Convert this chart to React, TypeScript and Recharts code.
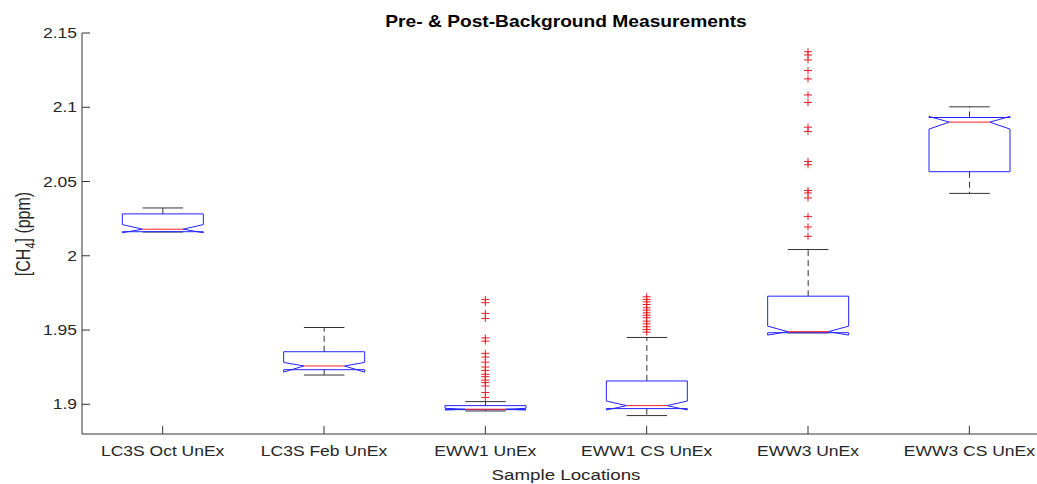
import { ComposedChart, Bar, Scatter, XAxis, YAxis } from 'recharts';

// sample locations
const categories = ['LC3S Oct UnEx', 'LC3S Feb UnEx', 'EWW1 UnEx', 'EWW1 CS UnEx', 'EWW3 UnEx', 'EWW3 CS UnEx'];

// box statistics (ppm), one value per location
const whiskerLow = [2.016, 1.9197, 1.8955, 1.8924, 1.9481, 2.042];
const q1 = [2.0162, 1.9233, 1.8964, 1.8971, 1.9482, 2.0566];
const median = [2.0179, 1.9258, 1.8967, 1.8991, 1.9489, 2.09];
const q3 = [2.0282, 1.9354, 1.8991, 1.9157, 1.9728, 2.0931];
const whiskerHigh = [2.0322, 1.9517, 1.9018, 1.945, 2.0042, 2.1003];
const notchLow = [2.0155, 1.9217, 1.8962, 1.8962, 1.9466, 2.0853];
const notchHigh = [2.021, 1.9282, 1.8973, 1.9022, 1.9526, 2.0938];

// outliers
const eww1Outliers = [1.9706, 1.9684, 1.9612, 1.9578, 1.9447, 1.9425, 1.9343, 1.9318, 1.9284, 1.9251, 1.9228, 1.9202, 1.9186, 1.9163, 1.9146, 1.9123, 1.9079, 1.9046];
const eww1CsOutliers = [1.9724, 1.9706, 1.969, 1.9672, 1.965, 1.9634, 1.9616, 1.96, 1.9583, 1.956, 1.9542, 1.9522, 1.9504, 1.9486];
const eww3Outliers = [2.1374, 2.1352, 2.1319, 2.1247, 2.1191, 2.1083, 2.1032, 2.0866, 2.0837, 2.0635, 2.0613, 2.044, 2.0423, 2.0389, 2.0265, 2.0194, 2.0131];

const yTicks = [1.9, 1.95, 2, 2.05, 2.1, 2.15];

const data = categories.map((name, i) => ({
  name,
  range: [whiskerLow[i], whiskerHigh[i]],
  q1: q1[i],
  median: median[i],
  q3: q3[i],
  notchLow: notchLow[i],
  notchHigh: notchHigh[i],
}));

const outlierData = [
  ...eww1Outliers.map((v) => ({ name: categories[2], v })),
  ...eww1CsOutliers.map((v) => ({ name: categories[3], v })),
  ...eww3Outliers.map((v) => ({ name: categories[4], v })),
];

const AXIS = '#333';
const TEXT = '#262626';
const FONT = '"Liberation Sans", Arial, sans-serif';
const SX = 1.25; // the picture is stretched sideways

function NotchedBox(props: any) {
  const { x, y, width, height, payload } = props;
  const [lo, hi] = payload.range;
  const py = (v: number) => y + (height * (hi - v)) / (hi - lo);
  const cx = x + width / 2;
  const l = x;
  const r = x + width;
  const il = x + width / 4;
  const ir = x + (width * 3) / 4;
  const d =
    `M${l},${py(payload.q1)} L${l},${py(payload.notchLow)} L${il},${py(payload.median)} ` +
    `L${l},${py(payload.notchHigh)} L${l},${py(payload.q3)} L${r},${py(payload.q3)} ` +
    `L${r},${py(payload.notchHigh)} L${ir},${py(payload.median)} L${r},${py(payload.notchLow)} ` +
    `L${r},${py(payload.q1)} Z`;
  return (
    <g>
      <line x1={cx} x2={cx} y1={py(payload.q3)} y2={py(hi)} stroke={AXIS} strokeDasharray="6 4" />
      <line x1={cx} x2={cx} y1={py(payload.q1)} y2={py(lo)} stroke={AXIS} strokeDasharray="6 4" />
      <line x1={il} x2={ir} y1={py(hi)} y2={py(hi)} stroke={AXIS} />
      <line x1={il} x2={ir} y1={py(lo)} y2={py(lo)} stroke={AXIS} />
      <path d={d} fill="none" stroke="#2323ff" strokeWidth={1} />
      <line x1={il} x2={ir} y1={py(payload.median)} y2={py(payload.median)} stroke="#ff2020" />
    </g>
  );
}

function Plus(props: any) {
  const { cx, cy } = props;
  return <path d={`M${cx - 4},${cy} h8 M${cx},${cy - 3.5} v7`} stroke="#ee1c24" strokeWidth={1} fill="none" />;
}

function XTick(props: any) {
  const { x, y, payload } = props;
  return (
    <g transform={`translate(${x},${y + 22}) scale(${SX},1)`}>
      <text x={0} y={0} textAnchor="middle" fontSize={14} fontFamily={FONT} fill={TEXT}>
        {payload.value}
      </text>
    </g>
  );
}

function YTick(props: any) {
  const { x, y, payload } = props;
  return (
    <g transform={`translate(${x},${y + 5}) scale(${SX},1)`}>
      <text x={0} y={0} textAnchor="end" fontSize={14} fontFamily={FONT} fill={TEXT}>
        {String(payload.value)}
      </text>
    </g>
  );
}

export default function App() {
  return (
    <div style={{ position: 'absolute', left: 0, top: 0, width: 1037, height: 484, overflow: 'hidden', background: '#fff' }}>
      <ComposedChart
        width={1060}
        height={484}
        data={data}
        barCategoryGap="25%"
        margin={{ top: 33, right: 10, bottom: 0, left: 0 }}
      >
        <XAxis
          xAxisId="b"
          dataKey="name"
          type="category"
          allowDuplicatedCategory={false}
          height={50}
          stroke={AXIS}
          tickSize={-8}
          tickMargin={8}
          tick={<XTick />}
        />
        <XAxis
          xAxisId="t"
          orientation="top"
          type="number"
          domain={[0, 6]}
          ticks={[0.5, 1.5, 2.5, 3.5, 4.5, 5.5]}
          height={0}
          stroke={AXIS}
          tickSize={-8}
          tick={false}
        />
        <YAxis
          yAxisId="l"
          type="number"
          domain={[1.88, 2.15]}
          ticks={yTicks}
          allowDataOverflow
          width={82}
          stroke={AXIS}
          tickSize={-8}
          tickMargin={13}
          tick={<YTick />}
        />
        <YAxis
          yAxisId="r"
          orientation="right"
          type="number"
          domain={[1.88, 2.15]}
          ticks={yTicks}
          allowDataOverflow
          width={0}
          stroke={AXIS}
          tickSize={-8}
          tick={false}
        />
        <Bar xAxisId="b" yAxisId="l" dataKey="range" shape={NotchedBox} isAnimationActive={false} />
        <Scatter xAxisId="b" yAxisId="l" data={outlierData} dataKey="v" shape={Plus} isAnimationActive={false} />
      </ComposedChart>
      <svg width={1037} height={484} style={{ position: 'absolute', left: 0, top: 0, pointerEvents: 'none' }}>
        <g transform={`translate(566,26.5) scale(1.2,1)`}>
          <text textAnchor="middle" fontSize={16} fontWeight="bold" fontFamily={FONT} fill="#000">
            Pre- &amp; Post-Background Measurements
          </text>
        </g>
        <g transform={`translate(566,480) scale(${SX},1)`}>
          <text textAnchor="middle" fontSize={15} fontFamily={FONT} fill={TEXT}>
            Sample Locations
          </text>
        </g>
        <g transform={`translate(29.5,234) scale(${SX},1) rotate(-90)`}>
          <text textAnchor="middle" fontSize={16} fontFamily={FONT} fill={TEXT}>
            [CH<tspan dy={4} fontSize={11}>4</tspan>
            <tspan dy={-4}>] (ppm)</tspan>
          </text>
        </g>
      </svg>
    </div>
  );
}
